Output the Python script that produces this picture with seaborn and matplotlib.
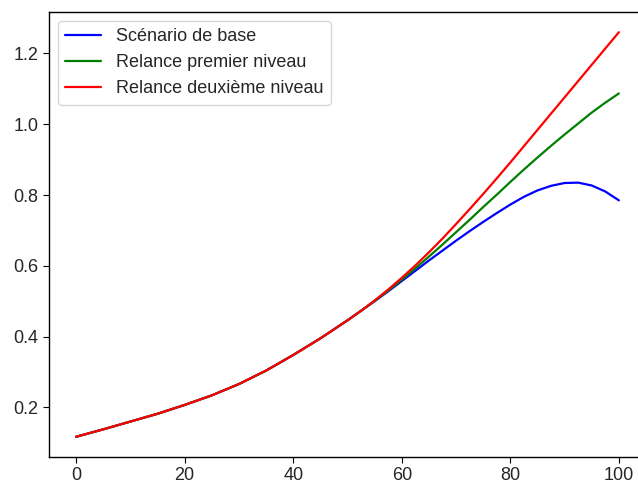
import pandas as pd
import matplotlib
matplotlib.use("Agg")
import matplotlib.pyplot as plt
import seaborn as sns

# values (finer steps where the curves split)
x = [0, 5, 10, 15, 20, 25, 30, 35, 40, 45, 50,
     52.5, 55, 57.5, 60, 62.5, 65, 67.5, 70, 72.5, 75,
     77.5, 80, 82.5, 85, 87.5, 90, 92.5, 95, 97.5, 100]
common = [0.117, 0.138, 0.160, 0.182, 0.207, 0.234, 0.266, 0.304, 0.348, 0.395, 0.446]
base = common + [0.473, 0.500, 0.528, 0.557, 0.586, 0.615, 0.643, 0.671, 0.698, 0.724,
                 0.749, 0.773, 0.795, 0.813, 0.826, 0.834, 0.835, 0.827, 0.810, 0.785]
relance1 = common + [0.473, 0.501, 0.530, 0.561, 0.593, 0.626, 0.660, 0.695, 0.730, 0.766,
                     0.801, 0.837, 0.872, 0.906, 0.939, 0.971, 1.002, 1.033, 1.061, 1.087]
relance2 = common + [0.473, 0.502, 0.533, 0.566, 0.601, 0.638, 0.677, 0.718, 0.760, 0.803,
                     0.847, 0.892, 0.938, 0.984, 1.030, 1.076, 1.122, 1.168, 1.214, 1.260]
labels = ["Scénario de base", "Relance premier niveau", "Relance deuxième niveau"]
colors = ["blue", "green", "red"]

df = pd.concat([
    pd.DataFrame({"x": x, "y": base, "scen": labels[0]}),
    pd.DataFrame({"x": x, "y": relance1, "scen": labels[1]}),
    pd.DataFrame({"x": x, "y": relance2, "scen": labels[2]}),
])

sns.set_style("white")
plt.rcParams["font.family"] = ["Liberation Sans", "DejaVu Sans"]
plt.rcParams["font.size"] = 13

fig = plt.figure(figsize=(6.38, 4.82), dpi=100)
# the reference is cropped on the right, so the axes run past the figure edge
ax = fig.add_axes([49 / 638, 25 / 482, 597 / 638, 445 / 482])
sns.lineplot(data=df, x="x", y="y", hue="scen", palette=colors, linewidth=1.6, ax=ax)

ax.set_xlabel("")
ax.set_ylabel("")
ax.set_xticks([0, 20, 40, 60, 80, 100])
ax.set_yticks([0.2, 0.4, 0.6, 0.8, 1.0, 1.2])
ax.tick_params(axis="both", direction="out", length=4, width=0.8, color="black",
               labelsize=13, bottom=True, left=True)
for s in ax.spines.values():
    s.set_color("black")
    s.set_linewidth(1.0)
ax.legend(title=None, loc="upper left", fontsize=13, frameon=True, fancybox=True,
          edgecolor="#cccccc", framealpha=0.8)

fig.savefig("out.png", dpi=100)
